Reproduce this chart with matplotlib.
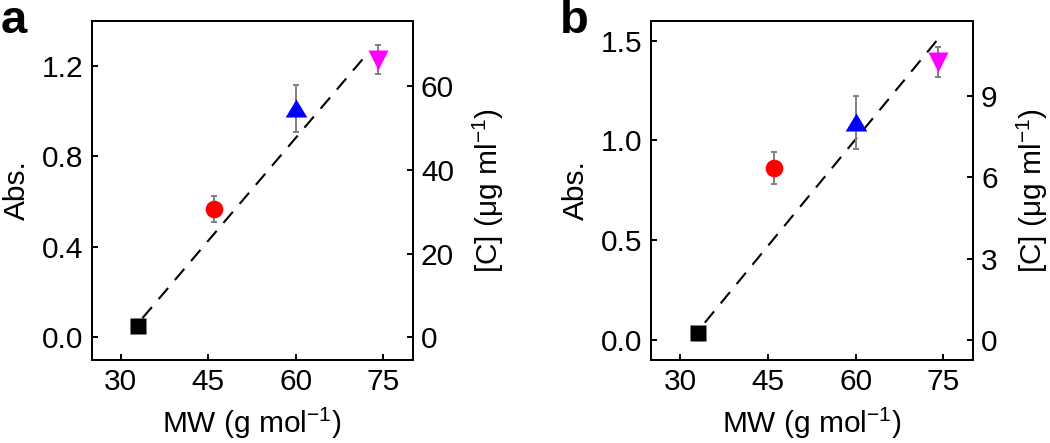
import numpy as np
import matplotlib
matplotlib.use("Agg")
import matplotlib.pyplot as plt

plt.rcParams['font.family'] = ['Liberation Sans', 'DejaVu Sans']
plt.rcParams['mathtext.fontset'] = 'custom'
plt.rcParams['mathtext.rm'] = 'Liberation Sans'
plt.rcParams['mathtext.it'] = 'Liberation Sans:italic'
plt.rcParams['mathtext.bf'] = 'Liberation Sans:bold'

# data
mw = [33, 46, 60, 74]
abs_a = [0.052, 0.566, 1.012, 1.228]
err_a = [0.0, 0.057, 0.104, 0.063]
abs_b = [0.037, 0.860, 1.090, 1.395]
err_b = [0.0, 0.080, 0.135, 0.075]

fit_a_x = [33.7, 72.0]
fit_a_y = [0.085, 1.247]
fit_b_x = [34.2, 74.1]
fit_b_y = [0.087, 1.509]

xticks = [30, 45, 60, 75]
yticks_a = [0.0, 0.4, 0.8, 1.2]
yticks_b = [0.0, 0.5, 1.0, 1.5]
cticks_a = [0, 20, 40, 60]
cticks_b = [0, 3, 6, 9]
ylim_a = (-0.1, 1.4)
ylim_b = (-0.1, 1.6)
conv_a = 54.0    # Abs -> ug/ml
conv_b = 7.36

colors = ['black', '#ff0000', '#0000ff', '#ff00ff']
tri_up = [(-1.2, -1), (1.2, -1), (0, 1)]
markers = ['s', 'o', tri_up, 'v']
msizes = [11, 12.7, 15.6, 15]

FS = 21.5


def style(ax):
    for s in ax.spines.values():
        s.set_linewidth(1.4)
    ax.tick_params(direction='in', length=4.5, width=1.4, labelsize=FS, pad=6)


def panel(rect, y, err, fx, fy, yticks, ylim, cticks, conv, fmt, letter):
    ax = fig.add_axes(rect)
    ax.plot(fx, fy, color='black', lw=1.5, dashes=(7, 5), zorder=2)
    for i in range(len(mw)):
        ax.errorbar(mw[i], y[i], yerr=err[i], fmt='none', ecolor='#808080',
                    elinewidth=1.4, capsize=2, capthick=1.4, zorder=3)
        ax.plot(mw[i], y[i], marker=markers[i], ms=msizes[i], color=colors[i],
                mec='none', ls='none', zorder=4)
    ax.set_xlim(25, 80)
    ax.set_ylim(*ylim)
    ax.set_xticks(xticks)
    ax.set_yticks(yticks)
    ax.set_yticklabels([fmt % v for v in yticks])
    ax.set_xlabel('MW (g mol$^{-1}$)', fontsize=FS, labelpad=7)
    ax.set_ylabel('Abs.', fontsize=FS, labelpad=8)
    style(ax)
    ax2 = ax.twinx()
    ax2.set_ylim(ylim[0] * conv, ylim[1] * conv)
    ax2.set_yticks(cticks)
    ax2.set_ylabel('[C] (\u03bcg ml$^{-1}$)', fontsize=FS, labelpad=12)
    style(ax2)
    fig.text(rect[0] - 0.087, 0.925, letter, fontsize=34, fontweight='bold')
    return ax


fig = plt.figure(figsize=(10.5, 4.43), dpi=100)
panel([0.0873, 0.1874, 0.3057, 0.7659], abs_a, err_a, fit_a_x, fit_a_y,
      yticks_a, ylim_a, cticks_a, conv_a, '%.1f', 'a')
panel([0.620, 0.1874, 0.3064, 0.7659], abs_b, err_b, fit_b_x, fit_b_y,
      yticks_b, ylim_b, cticks_b, conv_b, '%.1f', 'b')

fig.savefig('out.png', dpi=100)
